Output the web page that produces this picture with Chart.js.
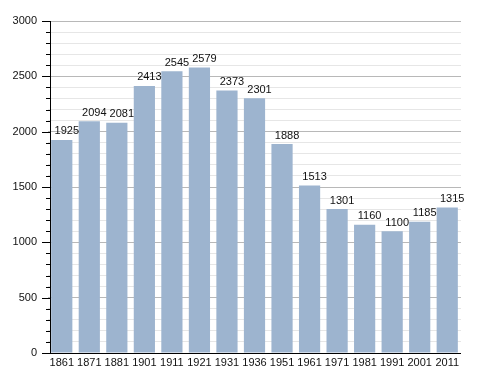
<!DOCTYPE html>
<html><head><meta charset="utf-8">
<script src="https://cdn.jsdelivr.net/npm/chart.js@4/dist/chart.umd.min.js"></script>
<style>html,body{margin:0;padding:0;background:#fff}#w{width:488px;height:373px}</style>
</head><body><div id="w"><canvas id="c" width="488" height="373"></canvas></div>
<script>
const years = ['1861','1871','1881','1901','1911','1921','1931','1936','1951','1961','1971','1981','1991','2001','2011'];
const population = [1925,2094,2081,2413,2545,2579,2373,2301,1888,1513,1301,1160,1100,1185,1315];
const yMin = 0, yMax = 3000, minorStep = 100, majorStep = 500;
const FONT = '"Liberation Sans", Arial, sans-serif';

const valueLabels = {
  id: 'valueLabels',
  afterDatasetsDraw(chart) {
    const ctx = chart.ctx;
    const meta = chart.getDatasetMeta(0);
    ctx.save();
    ctx.font = '11px ' + FONT;
    ctx.fillStyle = '#111';
    ctx.textAlign = 'center';
    ctx.textBaseline = 'bottom';
    meta.data.forEach((bar, i) => {
      ctx.fillText(String(population[i]), bar.x + 5, bar.y - 3);
    });
    ctx.restore();
  }
};
const axisTicks = {
  id: 'axisTicks',
  afterDraw(chart) {
    const ctx = chart.ctx, y = chart.scales.y, a = chart.chartArea;
    const ax = 50;
    ctx.save();
    ctx.strokeStyle = '#000';
    ctx.lineWidth = 1;
    y.ticks.forEach((t, i) => {
      const py = Math.round(y.getPixelForTick(i)) + 0.5;
      const len = (t.value % majorStep === 0) ? 8 : 4;
      ctx.beginPath(); ctx.moveTo(ax - len, py); ctx.lineTo(ax, py); ctx.stroke();
    });
    ctx.beginPath(); ctx.moveTo(ax + 0.5, a.top); ctx.lineTo(ax + 0.5, a.bottom + 1); ctx.stroke();
    ctx.beginPath(); ctx.moveTo(ax, Math.round(a.bottom) + 0.5); ctx.lineTo(a.right, Math.round(a.bottom) + 0.5); ctx.stroke();
    ctx.restore();
  }
};

new Chart(document.getElementById('c'), {
  type: 'bar',
  data: { labels: years, datasets: [{ data: population, backgroundColor: '#9db4cf', barPercentage: 0.77, categoryPercentage: 1.0 }] },
  options: {
    responsive: false, animation: false,
    layout: { padding: { top: 21, right: 27, left: 0, bottom: 0 } },
    plugins: { legend: { display: false }, tooltip: { enabled: false } },
    scales: {
      x: {
        grid: { display: false, drawTicks: false },
        border: { display: false },
        ticks: { color: '#111', font: { size: 11, family: FONT }, padding: 3, maxRotation: 0, autoSkip: false },
        afterFit(s) { s.height = 20; }
      },
      y: {
        min: yMin, max: yMax,
        grid: { color: c => (c.tick && c.tick.value % majorStep === 0) ? '#b8b8b8' : '#e6e6e6', drawTicks: false, lineWidth: 1 },
        border: { display: false },
        ticks: { stepSize: minorStep, autoSkip: false, color: '#111', font: { size: 11, family: FONT }, padding: 11,
          callback: v => (v % majorStep === 0) ? String(v) : '' },
        afterFit(s) { s.width = 48; }
      }
    }
  },
  plugins: [valueLabels, axisTicks]
});
</script></body></html>
